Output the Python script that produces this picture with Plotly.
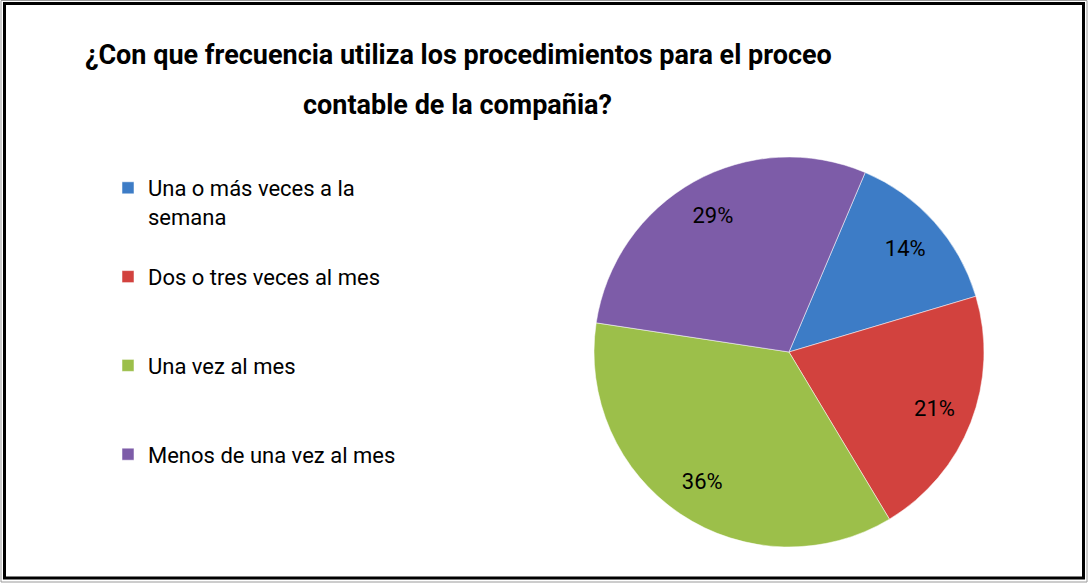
import plotly.graph_objects as go

title_line1 = "¿Con que frecuencia utiliza los procedimientos para el proceo"
title_line2 = "contable de la compañia?"
categories = ["Una o más veces a la<br>semana", "Dos o tres veces al mes",
              "Una vez al mes", "Menos de una vez al mes"]
values = [14, 21, 36, 29]
colors = ["#3D7CC6", "#D2423E", "#9CBF4A", "#7D5CA8"]

# pad legend labels to 3 lines so entries are spaced like the original
labels = []
for c in categories:
    n = c.count("<br>") + 1
    labels.append(c + "<br>\u00a0" * (3 - n))

W, H = 1090, 585
cx, cy, r = 789, 352, 195
FONT = "Roboto"
dom = dict(x=[(cx - r) / W, (cx + r) / W], y=[(H - cy - r) / H, (H - cy + r) / H])

fig = go.Figure()
# slices
fig.add_trace(go.Pie(
    labels=labels,
    values=values,
    sort=False,
    direction="clockwise",
    rotation=23,
    marker=dict(colors=colors, line=dict(color="rgba(255,255,255,0.5)", width=1)),
    textinfo="none",
    domain=dom,
    hoverinfo="label+percent",
))
# percentage labels (ring placement puts them near the rim like the original)
fig.add_trace(go.Pie(
    labels=labels,
    values=values,
    sort=False,
    direction="clockwise",
    rotation=23,
    hole=0.6,
    marker=dict(colors=["rgba(0,0,0,0)"] * len(values), line=dict(width=0)),
    texttemplate="%{percent:.0%}",
    textposition="inside",
    insidetextorientation="horizontal",
    textfont=dict(family=FONT, size=22, color="black"),
    domain=dom,
    showlegend=False,
    hoverinfo="skip",
))

fig.update_layout(
    width=W, height=H,
    margin=dict(l=0, r=0, t=0, b=0),
    paper_bgcolor="white",
    plot_bgcolor="white",
    font=dict(family=FONT, color="black"),
    showlegend=True,
    legend=dict(
        x=108 / W, y=1 - 167 / H, xanchor="left", yanchor="top",
        valign="top",
        font=dict(family=FONT, size=22, color="black"),
        bgcolor="rgba(0,0,0,0)",
    ),
    annotations=[
        dict(text="<b>" + title_line1 + "</b>", x=458 / W, y=1 - 55 / H, xref="paper", yref="paper",
             xanchor="center", yanchor="middle", showarrow=False,
             font=dict(family=FONT, size=27, color="black")),
        dict(text="<b>" + title_line2 + "</b>", x=457 / W, y=1 - 105 / H, xref="paper", yref="paper",
             xanchor="center", yanchor="middle", showarrow=False,
             font=dict(family=FONT, size=27, color="black")),
    ],
    shapes=[
        dict(type="rect", xref="paper", yref="paper", x0=4.5 / W, x1=1083.5 / W, y0=1 - 578 / H, y1=1 - 3.5 / H,
             line=dict(color="black", width=3), fillcolor="rgba(0,0,0,0)", layer="above"),
        dict(type="rect", xref="paper", yref="paper", x0=1 / W, x1=1087 / W, y0=1 - 582 / H, y1=1 - 0.5 / H,
             line=dict(color="#9a9a9a", width=1), fillcolor="rgba(0,0,0,0)", layer="above"),
    ],
)

fig.write_html("out.html", config={"displayModeBar": False},
               post_script="document.body.style.margin='0px';document.body.style.overflow='hidden';")
